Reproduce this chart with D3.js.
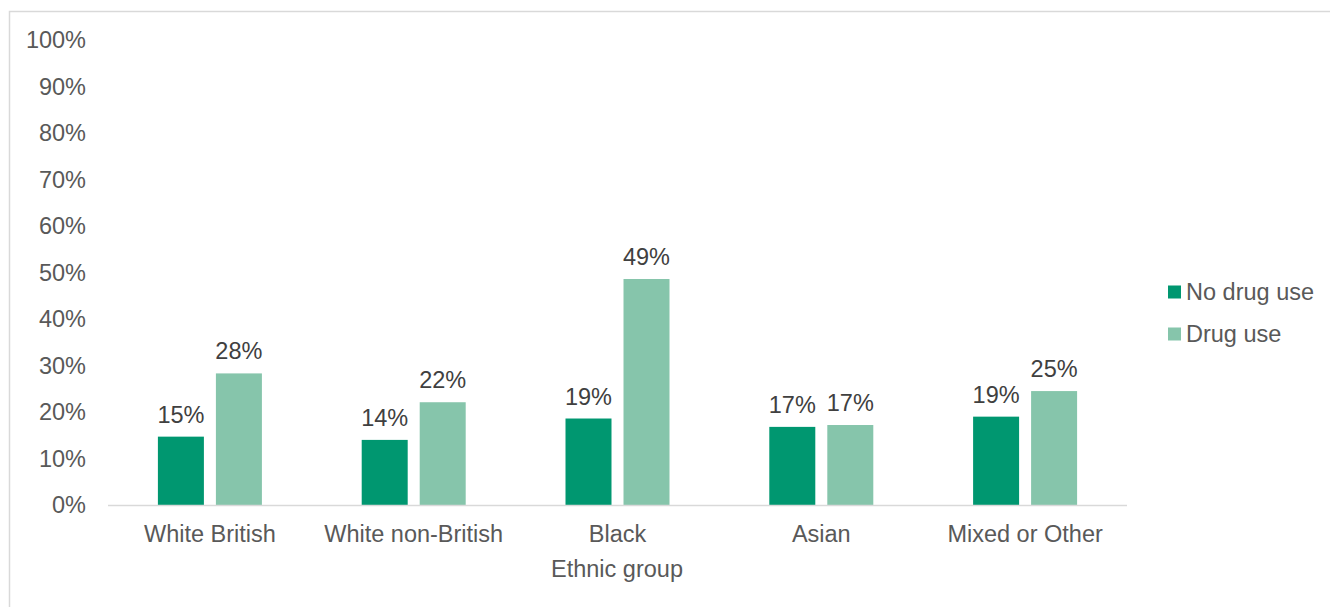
<!DOCTYPE html>
<html><head><meta charset="utf-8">
<script src="https://cdn.jsdelivr.net/npm/d3@7"></script>
<style>
html,body{margin:0;padding:0;background:#fff;}
svg{display:block;font-family:"Liberation Sans",Arial,sans-serif;}
</style></head>
<body>
<svg id="chart" width="1330" height="607"></svg>
<script>
const categories = ["White British", "White non-British", "Black", "Asian", "Mixed or Other"];
const seriesNames = ["No drug use", "Drug use"];
const noDrugUse = [14.7, 14.0, 18.6, 16.8, 19.0];
const drugUse = [28.3, 22.1, 48.6, 17.2, 24.5];
const valueLabels = [["15%","28%"],["14%","22%"],["19%","49%"],["17%","17%"],["19%","25%"]];
const yTicks = [0,10,20,30,40,50,60,70,80,90,100];
const colors = ["#009770", "#86C5AB"];
const xTitle = "Ethnic group";

const FS = 23.5;
const svg = d3.select("#chart");
// outer frame
svg.append("rect").attr("x",9.5).attr("y",11.5).attr("width",1340).attr("height",620)
  .attr("fill","none").attr("stroke","#d9d9d9").attr("stroke-width",1.5);

const x0 = d3.scaleBand().domain(categories).range([108,1127]);
const y = d3.scaleLinear().domain([0,100]).range([505,40]);
const x1 = d3.scaleBand().domain(seriesNames).range([-52,52]).paddingInner(0.207);

// y tick labels
svg.append("g").selectAll("text").data(yTicks).join("text")
  .attr("x",86).attr("y",d=>y(d)).attr("dy","0.36em")
  .attr("text-anchor","end").attr("font-size",FS).attr("fill","#595959")
  .text(d=>d+"%");

const data = categories.map((c,i)=>({cat:c, vals:[noDrugUse[i], drugUse[i]], labels:valueLabels[i]}));

const g = svg.append("g").selectAll("g").data(data).join("g")
  .attr("transform",d=>`translate(${x0(d.cat)+x0.bandwidth()/2},0)`);

g.selectAll("rect").data(d=>d.vals.map((v,j)=>({s:seriesNames[j],v,j}))).join("rect")
  .attr("x",d=>x1(d.s))
  .attr("y",d=>y(d.v)).attr("height",d=>y(0)-y(d.v))
  .attr("width",x1.bandwidth()).attr("fill",d=>colors[d.j]);

g.selectAll("text.val").data(d=>d.vals.map((v,j)=>({s:seriesNames[j],v,j,l:d.labels[j]}))).join("text")
  .attr("class","val")
  .attr("x",d=>x1(d.s)+x1.bandwidth()/2).attr("y",d=>y(d.v)-14)
  .attr("text-anchor","middle").attr("font-size",FS).attr("fill","#404040")
  .text(d=>d.l);

// x axis line
svg.append("line").attr("x1",108).attr("x2",1127).attr("y1",505.5).attr("y2",505.5)
  .attr("stroke","#d9d9d9").attr("stroke-width",1.5);

// x labels
svg.append("g").selectAll("text").data(categories).join("text")
  .attr("x",d=>x0(d)+x0.bandwidth()/2).attr("y",542)
  .attr("text-anchor","middle").attr("font-size",FS).attr("fill","#595959")
  .text(d=>d);

svg.append("text").attr("x",617).attr("y",577).attr("text-anchor","middle")
  .attr("font-size",FS).attr("fill","#595959").text(xTitle);

// legend
const leg = svg.append("g").selectAll("g").data(seriesNames).join("g")
  .attr("transform",(d,i)=>`translate(1168,${292+i*42})`);
leg.append("rect").attr("x",0).attr("y",-6.5).attr("width",13).attr("height",13)
  .attr("fill",(d,i)=>colors[i]);
leg.append("text").attr("x",18).attr("y",0).attr("dy","0.36em")
  .attr("font-size",FS).attr("fill","#595959").text(d=>d);
</script>
</body></html>
